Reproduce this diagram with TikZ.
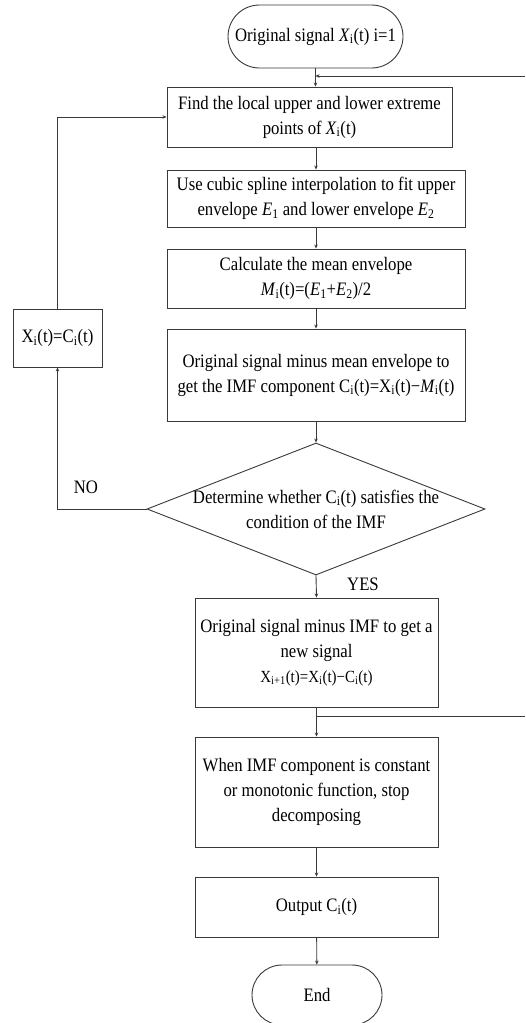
\documentclass[tikz,border=0pt]{standalone}
\usepackage{fontspec}
\setmainfont[FakeStretch=0.88]{Liberation Serif}
\usetikzlibrary{shapes.geometric,shapes.misc,arrows.meta}
\newcommand\lsub[1]{\textsubscript{#1}}
\definecolor{ln}{HTML}{3A3A3A}
\tikzset{
  txt/.style={font=\fontsize{19}{25}\selectfont, text=black, align=center},
  procbox/.style={txt, draw=ln, line width=0.9pt, rectangle, inner sep=0pt},
  termbox/.style={txt, draw=ln, line width=0.9pt, rounded rectangle, inner sep=0pt},
  conn/.style={draw=ln, line width=0.9pt},
  arr/.style={conn, -{Stealth[length=4pt,width=3.5pt]}},
}
\begin{document}
\begin{tikzpicture}[x=1pt,y=-1pt]
\useasboundingbox (0,0) rectangle (525,1023);
\fill[white] (0,0) rectangle (525,1023);

\node[termbox, minimum width=175pt, minimum height=63pt] (start) at (315.5,36.5)
  {Original signal \textit{X}\lsub{i}(t) i=1};
\node[procbox, minimum width=285pt, minimum height=60pt] (b1) at (309.5,117)
  {Find the local upper and lower extreme\\points of \textit{X}\lsub{i}(t)};
\node[procbox, minimum width=298pt, minimum height=57pt] (b2) at (316,198.5)
  {Use cubic spline interpolation to fit upper\\envelope \textit{E}\lsub{1} and lower envelope \textit{E}\lsub{2}};
\node[procbox, minimum width=298pt, minimum height=59pt] (b3) at (316,278.5)
  {Calculate the mean envelope\\\textit{M}\lsub{i}(t)=(\textit{E}\lsub{1}+\textit{E}\lsub{2})/2};
\node[procbox, minimum width=298pt, minimum height=92pt] (b4) at (316,375)
  {Original signal minus mean envelope to\\get the IMF component C\lsub{i}(t)=X\lsub{i}(t)−\textit{M}\lsub{i}(t)};
\node[diamond, draw=ln, line width=0.9pt, inner sep=0pt, minimum width=338pt, minimum height=132pt] (dia) at (316,509) {};
\node[txt] (diatext) at (dia.center)
  {Determine whether C\lsub{i}(t) satisfies the\\condition of the IMF};
\node[procbox, minimum width=89pt, minimum height=58pt] (xb) at (57.5,338)
  {X\lsub{i}(t)=C\lsub{i}(t)};
\node[procbox, minimum width=243pt, minimum height=109pt] (b5) at (316.5,652.5)
  {Original signal minus IMF to get a\\new signal\\{\fontsize{17}{22}\selectfont X\lsub{i+1}(t)=X\lsub{i}(t)−C\lsub{i}(t)}};
\node[procbox, minimum width=243pt, minimum height=110pt] (b6) at (316.5,792)
  {When IMF component is constant\\or monotonic function, stop\\decomposing};
\node[procbox, minimum width=243pt, minimum height=60pt] (b7) at (316.5,907)
  {Output C\lsub{i}(t)};
\node[termbox, minimum width=130pt, minimum height=60pt] (end) at (317,995) {End};

\node[txt] (no) at (86,487) {NO};
\node[txt] (yes) at (363,584) {YES};

\coordinate (r1) at (525,76);
\coordinate (r2) at (525,716);

\draw[arr] (start.south) -- (start.south |- b1.north);
\draw[arr] (r1) -- (start.south |- r1);
\draw[arr] (b1.south -| b2.north) -- (b2.north);
\draw[arr] (b2) -- (b3);
\draw[arr] (b3) -- (b4);
\draw[arr] (b4) -- (dia.north);
\draw[arr] (dia.south) -- (b5.north);
\draw[arr] (b5) -- (b6);
\draw[conn] (r2) -- (b5.south |- r2);
\draw[arr] (b6) -- (b7);
\draw[arr] (b7) -- (end);
\draw[arr] (dia.west) -| (xb.south);
\draw[arr] (xb.north) |- (b1.west);
\end{tikzpicture}
\end{document}
